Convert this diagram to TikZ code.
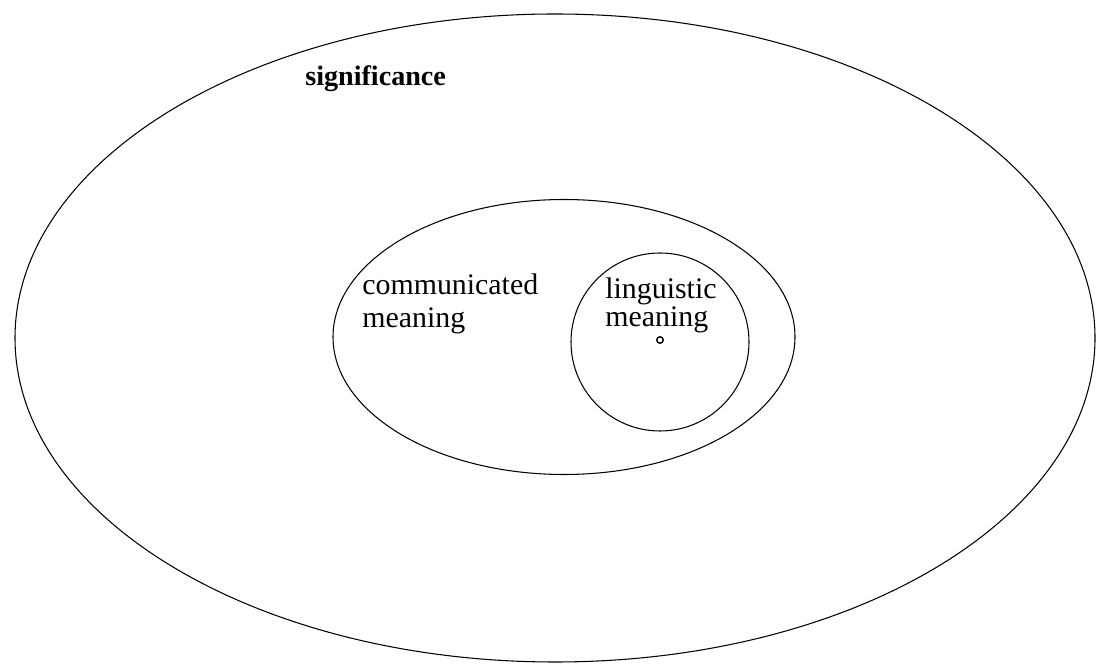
\documentclass[tikz,border=0pt]{standalone}
\usepackage{fontspec}
\setmainfont{Liberation Serif}
\usepackage{tikz}

\begin{document}
\begin{tikzpicture}
        [
            ring/.style = {line width = 0.6pt},
            label/.style = {inner sep = 0pt, anchor = base west, align = left},
            big/.style = {font = \fontsize{17}{19}\selectfont},
            tight/.style = {font = \fontsize{17}{16}\selectfont}
        ]
        \useasboundingbox (0,0) rectangle (21.94,13.28);

        % sets
        \draw[ring] (11.10,6.52) ellipse [x radius = 10.80, y radius = 6.48];
        \draw[ring] (11.28,6.54) ellipse [x radius = 4.62, y radius = 2.75];
        \draw[ring] (13.20,6.44) circle [radius = 1.78];
        \draw[line width = 0.8pt] (13.20,6.48) circle [radius = 0.065];

        % labels
        \node[label, font = \fontsize{16}{18}\selectfont\bfseries] (signif) at (6.10,11.56) {significance};
        \node[label, big] (comm) at (7.24,6.72) {communicated\\meaning};
        \node[label, tight] (ling) at (12.10,6.74) {linguistic\\meaning};
\end{tikzpicture}
\end{document}
